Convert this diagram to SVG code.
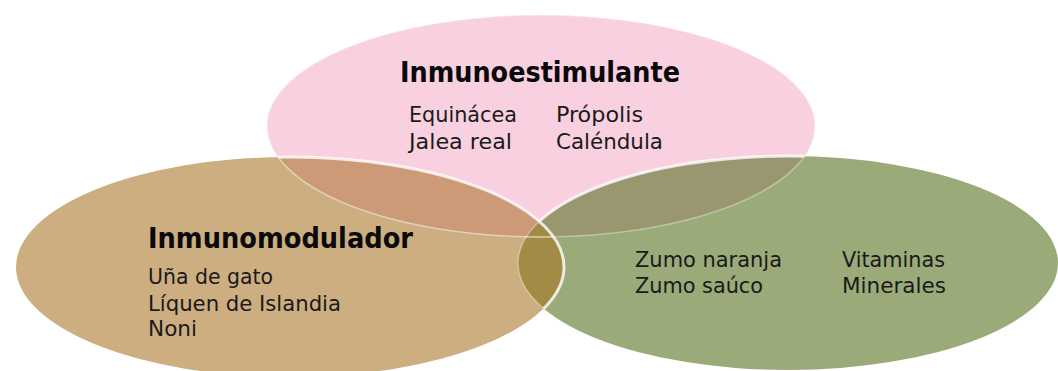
<svg xmlns="http://www.w3.org/2000/svg" width="1058" height="371" viewBox="0 0 1058 371">
  <style>
    .t { font-family: "DejaVu Sans Condensed", "DejaVu Sans", sans-serif; font-weight: bold; font-size: 29px; fill: #0a0a0a; }
    .b { font-family: "DejaVu Sans Condensed", "DejaVu Sans", sans-serif; font-size: 21px; fill: #1a1a1a; }
    .bright { fill: none; stroke: #ffffff; stroke-width: 3; stroke-opacity: 0.8; }
    .faint { fill: none; stroke: #ffffff; stroke-width: 1.5; stroke-opacity: 0.35; }
  </style>
  <defs>
    <ellipse id="eP" cx="541" cy="126" rx="274" ry="111"/>
    <ellipse id="eT" cx="290" cy="267" rx="274" ry="110"/>
    <ellipse id="eG" cx="788" cy="263" rx="270" ry="107"/>
    <clipPath id="cpP"><use href="#eP"/></clipPath>
    <clipPath id="cpT"><use href="#eT"/></clipPath>
    <clipPath id="cpG"><use href="#eG"/></clipPath>
    <clipPath id="cpPG"><use href="#eP"/><use href="#eG"/></clipPath>
    <mask id="outT">
      <rect x="0" y="0" width="1058" height="371" fill="#fff"/>
      <use href="#eT" fill="#000"/>
    </mask>
  </defs>
  <rect x="0" y="0" width="1058" height="371" fill="#ffffff"/>

  <g id="inmunoestimulante">
    <use href="#eP" fill="#F9D0E0"/>
  </g>
  <g id="vitaminas">
    <use href="#eG" fill="#9BAA79"/>
  </g>
  <g id="inmunomodulador">
    <use href="#eT" fill="#CDAE81"/>
  </g>

  <g id="overlaps">
    <use href="#eT" fill="#CC9A76" clip-path="url(#cpP)"/>
    <use href="#eG" fill="#9A9770" clip-path="url(#cpP)"/>
    <use href="#eT" fill="#A28B45" clip-path="url(#cpG)"/>
  </g>

  <g id="outlines">
    <use href="#eP" class="faint" clip-path="url(#cpPG)"/>
    <use href="#eP" class="faint" clip-path="url(#cpT)"/>
    <use href="#eG" class="faint" clip-path="url(#cpT)"/>
    <g mask="url(#outT)"><use href="#eG" class="bright" clip-path="url(#cpP)"/></g>
    <use href="#eT" class="bright" clip-path="url(#cpPG)"/>
  </g>

  <g id="labels-inmunoestimulante">
    <text class="t" x="400" y="82" textLength="280" lengthAdjust="spacingAndGlyphs">Inmunoestimulante</text>
    <text class="b" x="409" y="122" textLength="108" lengthAdjust="spacingAndGlyphs">Equinácea</text>
    <text class="b" x="409" y="149" textLength="103" lengthAdjust="spacingAndGlyphs">Jalea real</text>
    <text class="b" x="556" y="122" textLength="87" lengthAdjust="spacingAndGlyphs">Própolis</text>
    <text class="b" x="556" y="149" textLength="107" lengthAdjust="spacingAndGlyphs">Caléndula</text>
  </g>
  <g id="labels-inmunomodulador">
    <text class="t" x="148" y="248" textLength="265" lengthAdjust="spacingAndGlyphs">Inmunomodulador</text>
    <text class="b" x="148" y="284" textLength="125" lengthAdjust="spacingAndGlyphs">Uña de gato</text>
    <text class="b" x="148" y="311" textLength="193" lengthAdjust="spacingAndGlyphs">Líquen de Islandia</text>
    <text class="b" x="148" y="336" textLength="49" lengthAdjust="spacingAndGlyphs">Noni</text>
  </g>
  <g id="labels-vitaminas">
    <text class="b" x="635" y="267" textLength="147" lengthAdjust="spacingAndGlyphs">Zumo naranja</text>
    <text class="b" x="635" y="293" textLength="128" lengthAdjust="spacingAndGlyphs">Zumo saúco</text>
    <text class="b" x="842" y="267" textLength="103" lengthAdjust="spacingAndGlyphs">Vitaminas</text>
    <text class="b" x="842" y="293" textLength="104" lengthAdjust="spacingAndGlyphs">Minerales</text>
  </g>
</svg>
